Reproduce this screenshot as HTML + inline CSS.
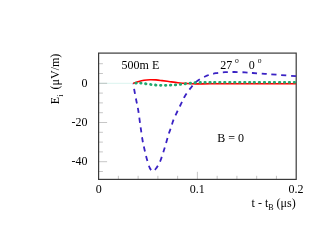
<!DOCTYPE html>
<html><head><meta charset="utf-8"><style>
html,body{margin:0;padding:0;background:#fff;}
body{width:334px;height:250px;overflow:hidden;}
svg{display:block;}
text{font-family:"Liberation Serif",serif;font-size:12px;fill:#000;}
</style></head><body>
<svg width="334" height="250" viewBox="0 0 334 250">
<rect width="334" height="250" fill="#fff"/>
<defs><clipPath id="c"><rect x="98.6" y="53.1" width="198.2" height="126.30000000000001"/></clipPath><filter id="soft" x="-5%" y="-5%" width="110%" height="110%"><feGaussianBlur stdDeviation="0.35"/></filter></defs>
<line x1="98.6" y1="83.3" x2="134" y2="83.3" stroke="#b5e8dc" stroke-width="0.5"/>
<g stroke="#a0a0a0" stroke-width="0.6" fill="none"><line x1="98.60" y1="171.50" x2="102.90" y2="171.50"/><line x1="98.60" y1="161.70" x2="107.10" y2="161.70"/><line x1="98.60" y1="151.90" x2="102.90" y2="151.90"/><line x1="98.60" y1="142.10" x2="102.90" y2="142.10"/><line x1="98.60" y1="132.30" x2="102.90" y2="132.30"/><line x1="98.60" y1="122.50" x2="107.10" y2="122.50"/><line x1="98.60" y1="112.70" x2="102.90" y2="112.70"/><line x1="98.60" y1="102.90" x2="102.90" y2="102.90"/><line x1="98.60" y1="93.10" x2="102.90" y2="93.10"/><line x1="98.60" y1="83.30" x2="107.10" y2="83.30"/><line x1="98.60" y1="73.50" x2="102.90" y2="73.50"/><line x1="98.60" y1="63.70" x2="102.90" y2="63.70"/><line x1="118.36" y1="179.40" x2="118.36" y2="175.80"/><line x1="138.12" y1="179.40" x2="138.12" y2="175.80"/><line x1="157.88" y1="179.40" x2="157.88" y2="175.80"/><line x1="177.64" y1="179.40" x2="177.64" y2="175.80"/><line x1="197.40" y1="179.40" x2="197.40" y2="171.80"/><line x1="217.16" y1="179.40" x2="217.16" y2="175.80"/><line x1="236.92" y1="179.40" x2="236.92" y2="175.80"/><line x1="256.68" y1="179.40" x2="256.68" y2="175.80"/><line x1="276.44" y1="179.40" x2="276.44" y2="175.80"/></g>
<rect x="98.6" y="53.1" width="197.6" height="126.30000000000001" fill="none" stroke="#3a3a3a" stroke-width="1.2"/>
<g clip-path="url(#c)" fill="none">
<path d="M133.20 83.50 C133.38 84.58 133.80 87.25 134.30 90.00 C134.80 92.75 135.55 96.67 136.20 100.00 C136.85 103.33 137.52 105.83 138.20 110.00 C138.88 114.17 139.58 120.00 140.30 125.00 C141.02 130.00 141.82 136.00 142.50 140.00 C143.18 144.00 143.70 145.92 144.40 149.00 C145.10 152.08 145.80 155.33 146.70 158.50 C147.60 161.67 148.78 165.88 149.80 168.00 C150.82 170.12 151.83 171.03 152.80 171.20 C153.77 171.37 154.73 169.95 155.60 169.00 C156.47 168.05 157.18 166.92 158.00 165.50 C158.82 164.08 159.55 162.92 160.50 160.50 C161.45 158.08 162.77 153.92 163.70 151.00 C164.63 148.08 165.28 145.77 166.10 143.00 C166.92 140.23 167.78 136.98 168.60 134.40 C169.42 131.82 170.23 129.80 171.00 127.50 C171.77 125.20 172.33 122.88 173.20 120.60 C174.07 118.32 175.10 116.17 176.20 113.80 C177.30 111.43 178.85 108.35 179.80 106.40 C180.75 104.45 181.03 103.83 181.90 102.10 C182.77 100.37 183.58 98.28 185.00 96.00 C186.42 93.72 188.50 90.80 190.40 88.40 C192.30 86.00 193.63 83.72 196.40 81.60 C199.17 79.48 203.73 77.10 207.00 75.70 C210.27 74.30 213.00 73.78 216.00 73.20 C219.00 72.62 222.00 72.40 225.00 72.20 C228.00 72.00 230.67 71.97 234.00 72.00 C237.33 72.03 241.88 72.23 245.00 72.40 C248.12 72.57 249.37 72.77 252.70 73.00 C256.03 73.23 260.45 73.47 265.00 73.80 C269.55 74.13 274.83 74.60 280.00 75.00 C285.17 75.40 293.33 76.00 296.00 76.20" stroke="#3a22c4" stroke-width="1.8" stroke-dasharray="5.1 4.66" stroke-dashoffset="4.3"/>
<path d="M133.20 83.40 C134.00 83.12 136.20 82.23 138.00 81.70 C139.80 81.17 142.00 80.53 144.00 80.20 C146.00 79.87 148.00 79.75 150.00 79.70 C152.00 79.65 154.00 79.75 156.00 79.90 C158.00 80.05 159.67 80.30 162.00 80.60 C164.33 80.90 167.33 81.35 170.00 81.70 C172.67 82.05 175.33 82.42 178.00 82.70 C180.67 82.98 183.00 83.20 186.00 83.40 C189.00 83.60 192.00 83.83 196.00 83.90 C200.00 83.97 202.67 83.82 210.00 83.80 C217.33 83.78 225.67 83.80 240.00 83.80 C254.33 83.80 286.67 83.80 296.00 83.80" stroke="#ff0000" stroke-width="1.6"/>
<path d="M133.50 83.30 C134.25 83.25 136.42 82.98 138.00 83.00 C139.58 83.02 141.00 83.17 143.00 83.40 C145.00 83.63 147.50 84.10 150.00 84.40 C152.50 84.70 155.33 85.05 158.00 85.20 C160.67 85.35 163.33 85.33 166.00 85.30 C168.67 85.27 171.33 85.18 174.00 85.00 C176.67 84.82 179.33 84.50 182.00 84.20 C184.67 83.90 187.33 83.47 190.00 83.20 C192.67 82.93 194.67 82.73 198.00 82.60 C201.33 82.47 201.33 82.45 210.00 82.40 C218.67 82.35 235.67 82.32 250.00 82.30 C264.33 82.28 288.33 82.30 296.00 82.30" stroke="#22a86e" stroke-width="2.8" stroke-linecap="round" stroke-dasharray="0.5 4.45" stroke-dashoffset="-2.35"/>
</g>
<g filter="url(#soft)">
<text x="87.6" y="87.2" text-anchor="end">0</text>
<text x="87.6" y="126.4" text-anchor="end">-20</text>
<text x="87.6" y="165.4" text-anchor="end">-40</text>
<text x="98.7" y="193.3" text-anchor="middle">0</text>
<text x="197.3" y="193.4" text-anchor="middle">0.1</text>
<text x="296" y="193.2" text-anchor="middle">0.2</text>
<text x="295.7" y="206.6" text-anchor="end">t - t<tspan font-size="8" dy="3.6">B</tspan><tspan dy="-3.6"> (μs)</tspan></text>
<text transform="translate(59.4,104.2) rotate(-90)">E<tspan font-size="8" dy="3.2">i</tspan><tspan dy="-3.2" dx="-0.8">&#160; (μV/m)</tspan></text>
<text x="121.6" y="68.7">500m E</text>
<text x="220.3" y="69">27<tspan font-size="7.6" dy="-5.9" dx="2.7">o</tspan><tspan dy="5.9" dx="9.9">0</tspan><tspan font-size="7.6" dy="-5.9" dx="3.0">o</tspan></text>
<text x="217.3" y="142">B = 0</text>
</g>
</svg>
</body></html>
